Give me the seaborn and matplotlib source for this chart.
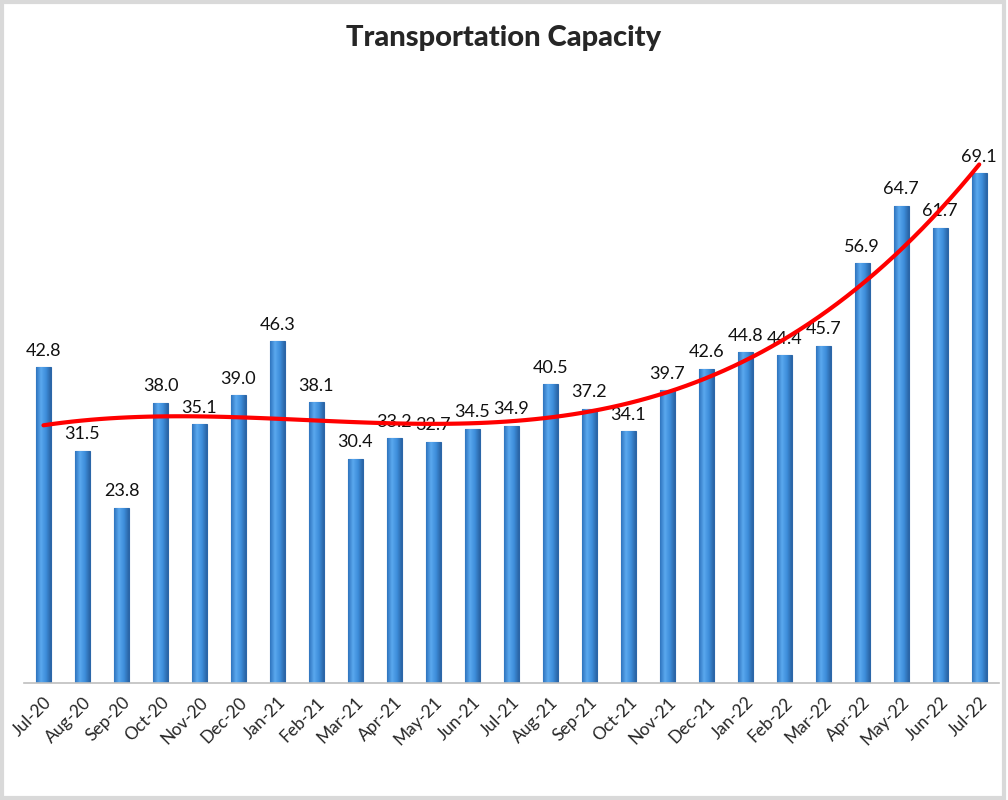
import numpy as np
import pandas as pd
import seaborn as sns
import matplotlib
matplotlib.use('Agg')
import matplotlib.pyplot as plt
from matplotlib.patches import Rectangle

months = ["Jul-20", "Aug-20", "Sep-20", "Oct-20", "Nov-20", "Dec-20", "Jan-21", "Feb-21",
          "Mar-21", "Apr-21", "May-21", "Jun-21", "Jul-21", "Aug-21", "Sep-21", "Oct-21",
          "Nov-21", "Dec-21", "Jan-22", "Feb-22", "Mar-22", "Apr-22", "May-22", "Jun-22", "Jul-22"]
capacity = [42.8, 31.5, 23.8, 38.0, 35.1, 39.0, 46.3, 38.1,
            30.4, 33.2, 32.7, 34.5, 34.9, 40.5, 37.2, 34.1,
            39.7, 42.6, 44.8, 44.4, 45.7, 56.9, 64.7, 61.7, 69.1]

df = pd.DataFrame({"month": months, "value": capacity})
df["idx"] = np.arange(len(df))

sns.set_style("white")
plt.rcParams['font.family'] = ['Lato', 'DejaVu Sans']

fig = plt.figure(figsize=(10.08, 8), dpi=100)
ax = fig.add_axes([0.0238, 0.146, 0.967, 0.729])

sns.barplot(data=df, x="month", y="value", color="#3E8EDB", width=0.38,
            edgecolor="#2B66A8", linewidth=0.8, ax=ax, zorder=2)

# gradient shading inside each column
grad = np.linspace(0, 1, 64).reshape(1, -1)
cmap = matplotlib.colors.LinearSegmentedColormap.from_list(
    "col", ["#2F74BE", "#5AA8EE", "#3E8EDB", "#2A64A5"])
for p in ax.patches:
    x0, y0 = p.get_x(), p.get_y()
    w, h = p.get_width(), p.get_height()
    im = ax.imshow(grad, cmap=cmap, aspect="auto", extent=[x0, x0 + w, y0, y0 + h], zorder=2.5)
    im.set_clip_path(p)

ax.bar_label(ax.containers[0], fmt="%.1f", padding=6, fontsize=13, color="#111111")

sns.regplot(data=df, x="idx", y="value", order=3, ci=None, scatter=False, truncate=True,
            line_kws={"color": "#FF0000", "linewidth": 3, "zorder": 4}, ax=ax)

ax.set_xlim(-0.5, len(months) - 0.5)
ax.set_ylim(0, 79)
ax.set_xticks(range(len(months)))
ax.set_xticklabels(months, rotation=45, ha="right", rotation_mode="anchor", fontsize=12.5)
ax.tick_params(axis="x", length=0, pad=8)
ax.set_yticks([])
ax.set_xlabel("")
ax.set_ylabel("")
for s in ["top", "right", "left"]:
    ax.spines[s].set_visible(False)
ax.spines["bottom"].set_color("#BFBFBF")
ax.spines["bottom"].set_linewidth(1.2)

fig.suptitle("Transportation Capacity", y=0.952, va="center", fontsize=21, fontweight="black")
fig.patches.append(Rectangle((0.002, 0.003), 0.994, 0.994, transform=fig.transFigure,
                             fill=False, edgecolor="#D9D9D9", linewidth=3))

fig.savefig("out.png", dpi=100)
